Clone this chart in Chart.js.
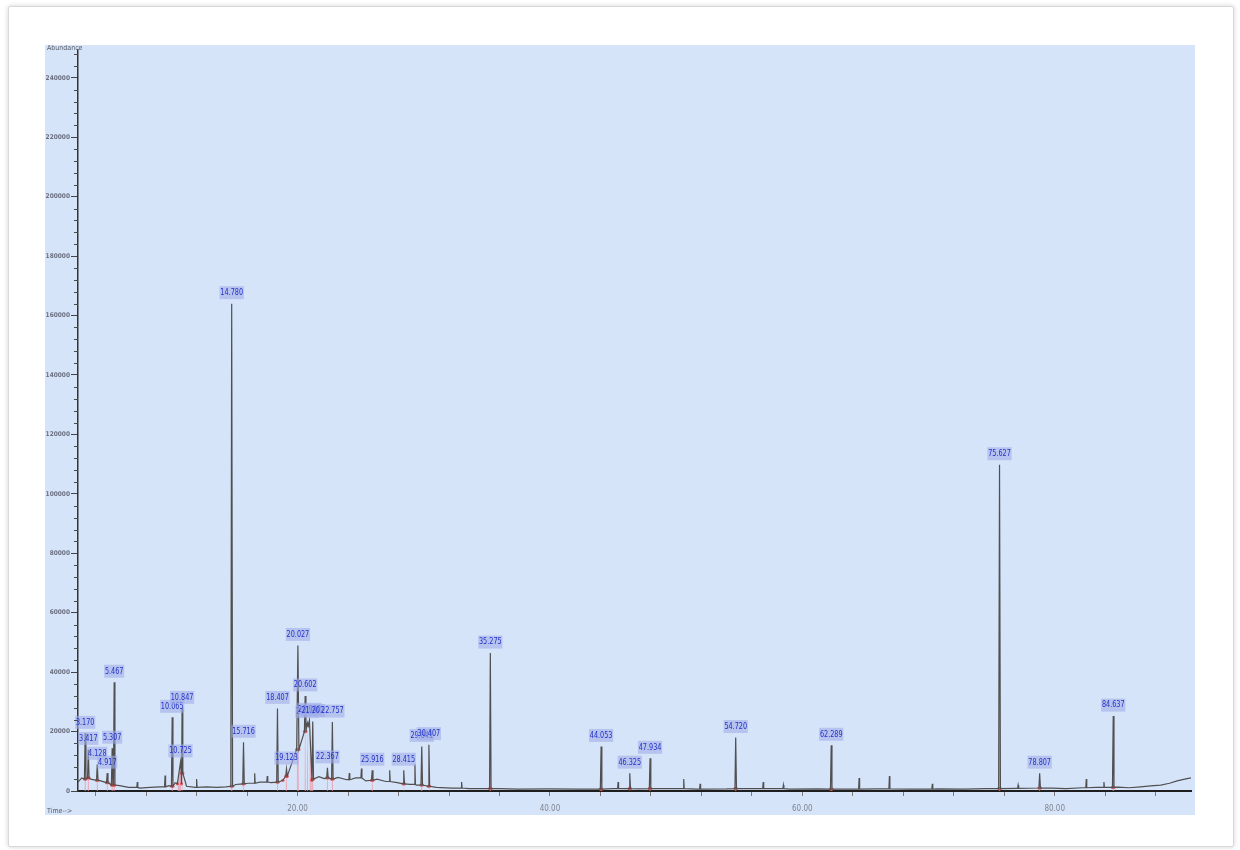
<!DOCTYPE html>
<html>
<head>
<meta charset="utf-8">
<script src="https://cdn.jsdelivr.net/npm/chart.js@4.4.1/dist/chart.umd.min.js"></script>
<style>
  html, body { margin: 0; padding: 0; background: #ffffff; width: 1240px; height: 850px; overflow: hidden; }
  #card { position: absolute; left: 8px; top: 6px; width: 1224px; height: 839px; background: #ffffff;
          border: 1px solid #d9d9d9; box-shadow: 0 0 5px rgba(0,0,0,0.18); border-radius: 2px; }
  #plot { position: absolute; left: 45px; top: 45px; background: #d6e4fa; }
</style>
</head>
<body>
<div id="card"></div>
<canvas id="plot" width="1150" height="770"></canvas>
<script>
// ---- TIC chromatogram: labelled peaks (retention time in min, abundance) ----
const peakTime   = [3.170, 3.417, 4.128, 4.917, 5.307, 5.467, 10.065, 10.725, 10.847, 14.780,
                    15.716, 18.407, 19.123, 20.027, 20.602, 20.784, 20.940, 21.202, 22.367, 22.757,
                    25.916, 28.415, 29.841, 30.407, 35.275, 44.053, 46.325, 47.934, 54.720, 62.289,
                    75.627, 78.807, 84.637];
const peakHeight = [19400, 14000, 9000, 6000, 14400, 36600, 24800, 9800, 27800, 164000,
                    16400, 27800, 7400, 49000, 32000, 23000, 23800, 23400, 7800, 23200,
                    7000, 7000, 15000, 15600, 46400, 15000, 6000, 11000, 18000, 15400,
                    109800, 6000, 25200];
const peakFoot   = [4000, 4400, 3600, 2800, 2000, 2000, 1600, 2400, 6000, 1600,
                    2400, 3000, 5000, 14000, 20000, 22000, 3600, 4000, 4400, 4000,
                    3600, 2400, 2000, 1600, 800, 600, 800, 800, 800, 600,
                    800, 1000, 1200];
const peakRise   = [0.06, 0.06, 0.06, 0.06, 0.06, 0.06, 0.06, 0.25, 0.06, 0.07,
                    0.06, 0.06, 0.06, 0.10, 0.06, 0.06, 2.10, 0.06, 0.06, 0.06,
                    0.06, 0.06, 0.06, 0.06, 0.06, 0.06, 0.06, 0.06, 0.06, 0.06,
                    0.07, 0.06, 0.06];
const peakFall   = [0.06, 0.06, 0.06, 0.06, 0.06, 0.06, 0.06, 0.08, 0.06, 0.07,
                    0.06, 0.06, 0.06, 0.08, 0.06, 0.06, 0.20, 0.06, 0.06, 0.06,
                    0.06, 0.06, 0.06, 0.06, 0.06, 0.06, 0.06, 0.06, 0.06, 0.06,
                    0.07, 0.06, 0.06];

// ---- unlabelled small spikes ----
const minorTime   = [7.3, 9.5, 12.0, 16.6, 17.6, 24.1, 25.06, 27.3, 29.3, 33.0, 45.4,
                     50.6, 51.9, 56.9, 58.5, 64.5, 66.9, 70.3, 77.1, 82.5, 83.9];
const minorHeight = [3000, 5200, 4000, 6000, 5000, 6000, 7600, 7000, 9000, 3000, 3000,
                     4000, 2400, 3000, 2000, 4400, 5000, 2400, 2000, 4000, 3000];

// ---- baseline signal ----
const baselineTime  = [2.6, 2.9, 3.6, 4.4, 5.0, 5.9, 6.6, 7.5, 8.3, 9.1, 9.8, 10.3, 11.2, 11.9,
                       12.8, 13.6, 14.3, 15.1, 16.1, 17.0, 17.9, 18.6, 21.7, 22.1, 23.2, 23.9,
                       24.6, 25.4, 26.3, 27.0, 27.9, 28.9, 29.4, 31.0, 32.2, 33.6, 36.0, 37.5,
                       40.0, 42.3, 45.0, 47.0, 49.5, 51.7, 54.0, 56.5, 59.0, 61.2, 63.8, 65.9,
                       68.5, 70.7, 72.8, 74.6, 77.0, 79.8, 80.9, 82.2, 83.3, 85.0, 85.9, 86.8,
                       87.6, 88.4, 89.1, 89.7, 90.3, 90.8];
const baselineLevel = [3000, 4400, 4000, 3400, 2800, 1800, 1200, 1000, 1200, 1400, 1800, 2800, 1600, 1200,
                       1400, 1200, 1400, 2200, 2600, 3000, 2800, 3200, 4800, 4200, 4600, 3800,
                       4400, 3400, 4000, 3200, 2800, 2200, 2000, 1200, 1000, 800, 800, 600,
                       700, 600, 800, 700, 800, 600, 700, 800, 600, 700, 600, 700,
                       600, 700, 600, 800, 900, 1000, 800, 1100, 1200, 1300, 1100, 1400,
                       1700, 2000, 2600, 3400, 4000, 4400];

// ---- axes ----
const timeMin = 2.6, timeMax = 90.8;
const abundanceMax = 249400;
const abundanceStep = 20000;
const timeStep = 4, timeLabelStep = 20;

// baseline level at or before a given time (lookup)
function levelBefore(t) {
  let v = baselineLevel[0];
  for (let i = 0; i < baselineTime.length; i++) { if (baselineTime[i] <= t) v = baselineLevel[i]; }
  return v;
}

// windows occupied by spikes
const windows = [];
peakTime.forEach((t, i) => windows.push([t - peakRise[i], t + peakFall[i]]));
minorTime.forEach(t => windows.push([t - 0.04, t + 0.04]));

const trace = [];
baselineTime.forEach((t, i) => {
  if (!windows.some(w => t >= w[0] && t <= w[1])) trace.push({ x: t, y: baselineLevel[i] });
});
peakTime.forEach((t, i) => {
  trace.push({ x: t - peakRise[i], y: peakFoot[i] });
  trace.push({ x: t, y: peakHeight[i] });
  trace.push({ x: t + peakFall[i], y: peakFoot[i] });
});
minorTime.forEach((t, i) => {
  const f = levelBefore(t);
  trace.push({ x: t - 0.04, y: f });
  trace.push({ x: t, y: minorHeight[i] });
  trace.push({ x: t + 0.04, y: f });
});
trace.sort((a, b) => a.x - b.x);

// integrated areas (pink) and integration marks (red)
const areas = [];
const marks = [];
peakTime.forEach((t, i) => {
  areas.push({ x: t - peakRise[i], y: 0 });
  areas.push({ x: t, y: peakHeight[i] });
  areas.push({ x: t + peakFall[i], y: 0 });
  areas.push({ x: t + peakFall[i] + 0.001, y: null });
  marks.push({ x: t - peakRise[i], y: peakFoot[i] });
  marks.push({ x: t + peakFall[i], y: peakFoot[i] });
});
areas.sort((a, b) => a.x - b.x);

const labelFont = '"Liberation Sans Narrow", "DejaVu Sans Condensed", "Arial Narrow", sans-serif';

const minorTicks = {
  id: 'minorTicks',
  afterDraw(chart) {
    const { ctx, chartArea, scales: { y } } = chart;
    ctx.save();
    ctx.strokeStyle = '#4a4a4a';
    ctx.lineWidth = 1;
    for (let k = 1; k * abundanceStep / 5 <= abundanceMax; k++) {
      if (k % 5 === 0) continue;
      const py = Math.round(y.getPixelForValue(k * abundanceStep / 5)) + 0.5;
      ctx.beginPath();
      ctx.moveTo(chartArea.left - 4, py);
      ctx.lineTo(chartArea.left, py);
      ctx.stroke();
    }
    ctx.restore();
  }
};

// retention-time labels above each integrated peak, horizontally condensed
const peakLabels = {
  id: 'peakLabels',
  afterDatasetsDraw(chart) {
    const { ctx, scales: { x, y } } = chart;
    peakTime.forEach((t, i) => {
      const txt = t.toFixed(3);
      const px = x.getPixelForValue(t);
      const py = y.getPixelForValue(peakHeight[i]) - 11;
      ctx.save();
      ctx.translate(px, py);
      ctx.scale(0.8, 1);
      ctx.font = '9px ' + labelFont;
      ctx.textAlign = 'center';
      ctx.textBaseline = 'middle';
      const w = ctx.measureText(txt).width + 2;
      ctx.fillStyle = 'rgba(160,174,232,0.6)';
      ctx.fillRect(-w / 2, -6.5, w, 13);
      ctx.fillStyle = '#2332c8';
      ctx.fillText(txt, 0, 0);
      ctx.restore();
    });
  }
};

const axisTitles = {
  id: 'axisTitles',
  afterDraw(chart) {
    const { ctx } = chart;
    ctx.save();
    ctx.fillStyle = '#555a66';
    ctx.font = '7px ' + labelFont;
    ctx.textAlign = 'left';
    ctx.textBaseline = 'top';
    ctx.fillText('Abundance', 2, 0);
    ctx.textBaseline = 'bottom';
    ctx.fillText('Time-->', 2, 770);
    ctx.restore();
  }
};

new Chart(document.getElementById('plot'), {
  type: 'line',
  data: {
    datasets: [
      { label: 'TIC', data: trace, borderColor: '#505050', borderWidth: 1.2, pointRadius: 0,
        fill: false, tension: 0, order: 0 },
      { label: 'Area', data: areas, borderColor: 'rgba(0,0,0,0)', borderWidth: 0,
        backgroundColor: 'rgba(238,150,162,0.7)', fill: 'origin', pointRadius: 0,
        spanGaps: false, tension: 0, order: 2 },
      { label: 'Marks', type: 'scatter', data: marks, pointRadius: 1.6,
        pointBackgroundColor: 'rgba(225,70,70,0.85)', pointBorderWidth: 0, order: 1 }
    ]
  },
  options: {
    responsive: false,
    animation: false,
    events: [],
    layout: { padding: { top: 3, right: 0, left: 0, bottom: 0 } },
    plugins: { legend: { display: false }, tooltip: { enabled: false } },
    scales: {
      x: {
        type: 'linear', min: timeMin, max: timeMax,
        afterFit: s => { s.height = 24; },
        afterBuildTicks: s => {
          const list = [];
          for (let v = Math.ceil(timeMin / timeStep) * timeStep; v <= timeMax; v += timeStep) list.push({ value: v });
          s.ticks = list;
        },
        ticks: {
          autoSkip: false, maxRotation: 0, padding: 8,
          color: '#80848e', font: { family: labelFont, size: 8 },
          callback: v => (v % timeLabelStep === 0 ? v.toFixed(2) : '')
        },
        grid: { drawOnChartArea: false, drawTicks: true, tickLength: 5, color: '#7a7a7a', lineWidth: 1 },
        border: { display: true, color: '#1e1e1e', width: 2 }
      },
      y: {
        min: 0, max: abundanceMax,
        afterFit: s => { s.width = 33; },
        afterBuildTicks: s => {
          const list = [];
          for (let v = 0; v <= abundanceMax; v += abundanceStep) list.push({ value: v });
          s.ticks = list;
        },
        ticks: {
          autoSkip: false, padding: 1,
          color: '#6b7080', font: { family: labelFont, size: 6.5, weight: 'bold' },
          callback: v => String(v)
        },
        grid: { drawOnChartArea: false, drawTicks: true, tickLength: 7, color: '#444444' },
        border: { display: true, color: '#333333', width: 1.5 }
      }
    }
  },
  plugins: [minorTicks, peakLabels, axisTitles]
});
</script>
</body>
</html>
